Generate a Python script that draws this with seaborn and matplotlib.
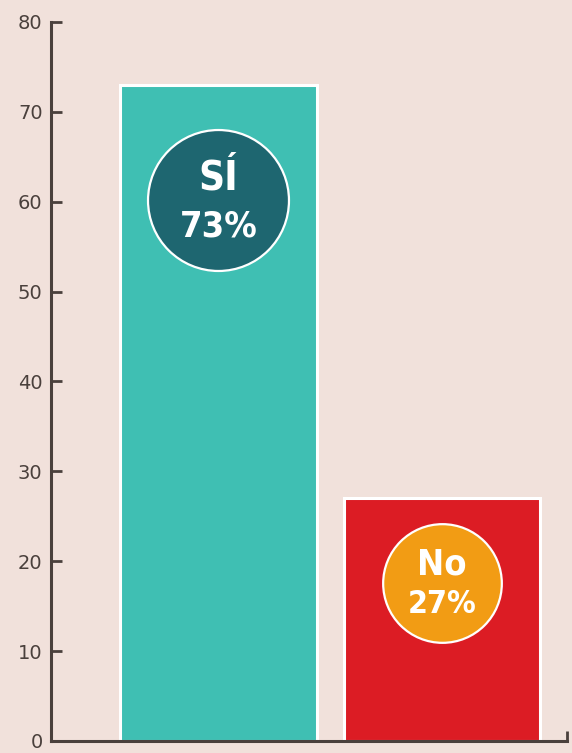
import matplotlib
matplotlib.use("Agg")
import matplotlib.pyplot as plt
from matplotlib import font_manager
import seaborn as sns

# Survey answers
answers = ["Sí", "No"]
shares = [73, 27]
answer_labels = ["SÍ", "No"]
pct_labels = ["73%", "27%"]
bar_colors = ["#3fbfb3", "#dc1c24"]
badge_colors = ["#1e6670", "#f29c14"]

bg = "#f1e1db"
axis_col = "#4a403c"

# pick a narrow bold face for the badge text if one is installed
names = {f.name for f in font_manager.fontManager.ttflist}
narrow = [f.name for f in font_manager.fontManager.ttflist
          if f.name == "DejaVu Sans" and "condensed" in str(f.stretch)]
if narrow:
    badge_font = dict(family="DejaVu Sans", stretch="condensed")
elif "Liberation Sans Narrow" in names:
    badge_font = dict(family="Liberation Sans Narrow")
else:
    badge_font = dict(family="DejaVu Sans")

sns.set_theme(style="white")
plt.rcParams["font.family"] = ["DejaVu Sans"]

fig = plt.figure(figsize=(5.72, 7.53), dpi=100, facecolor=bg)
ax = fig.add_axes([0.089, 0.016, 0.902, 0.955])
ax.set_facecolor(bg)

sns.barplot(x=answers, y=shares, hue=answers, palette=bar_colors, legend=False,
            width=0.88, edgecolor="white", linewidth=2.2, saturation=1, ax=ax)

# round badges on each bar
badge_size = [10300, 7300]
badge_drop = [-12.8, -9.4]
name_size = [29, 26]
pct_size = [26, 23]
name_off = [15, 13]
pct_off = [-19.5, -16]
for i, v in enumerate(shares):
    cy = v + badge_drop[i]
    ax.scatter([i], [cy], s=badge_size[i], color=badge_colors[i],
               edgecolor="white", linewidth=1.6, zorder=5)
    ax.annotate(answer_labels[i], (i, cy), xytext=(0, name_off[i]),
                textcoords="offset points", ha="center", va="center",
                color="white", fontsize=name_size[i], fontweight="bold",
                zorder=6, **badge_font)
    ax.annotate(pct_labels[i], (i, cy), xytext=(0, pct_off[i]),
                textcoords="offset points", ha="center", va="center",
                color="white", fontsize=pct_size[i], fontweight="bold",
                zorder=6, **badge_font)

ax.set_ylim(0, 80)
ax.set_xlim(-0.749, 1.559)
ax.set_yticks(range(0, 81, 10))
ax.set_xticks([1.559])
ax.set_xticklabels([""])
ax.tick_params(axis="y", direction="in", length=8, width=2, colors=axis_col,
               labelsize=14, pad=6, left=True)
ax.tick_params(axis="x", direction="in", length=7, width=2, colors=axis_col,
               bottom=True)

sns.despine(ax=ax, top=True, right=True)
for s in ["left", "bottom"]:
    ax.spines[s].set_color(axis_col)
    ax.spines[s].set_linewidth(2.2)
ax.set_xlabel("")
ax.set_ylabel("")

fig.savefig("out.png", dpi=100, facecolor=bg)
